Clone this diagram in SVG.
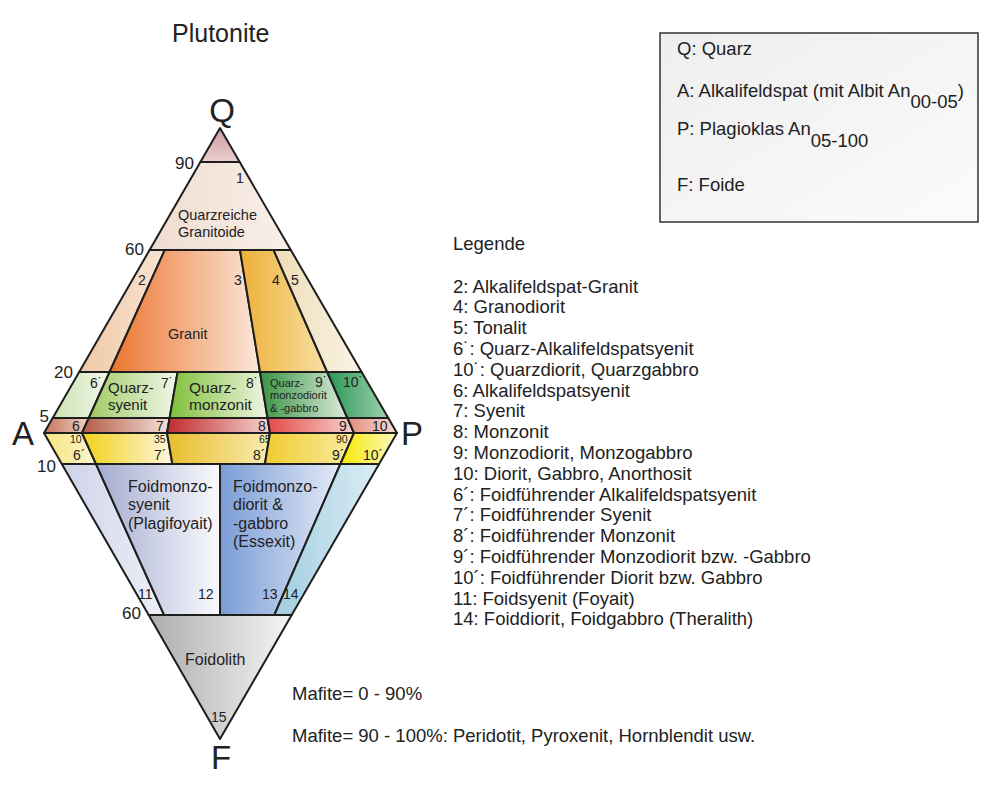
<svg xmlns="http://www.w3.org/2000/svg" width="1000" height="795" viewBox="0 0 1000 795">
<style>
text{font-family:"Liberation Sans",Arial,sans-serif;fill:#222}
.f{stroke:#1e1e1e;stroke-width:2;stroke-linejoin:round}
.n{font-size:14px}
.s{font-size:10.5px}
.ax{font-size:17px}
.v{font-size:33px}
.lg{font-size:18.5px}
.lb{font-size:16px}
</style>
<defs>
<linearGradient id="gT" x1="0" y1="0" x2="0" y2="1"><stop offset="0" stop-color="#cf9a9e"/><stop offset="1" stop-color="#e9cfcf"/></linearGradient>
<linearGradient id="g1" x1="0" y1="0" x2="1" y2="0"><stop offset="0" stop-color="#efdccf"/><stop offset="1" stop-color="#f9f0ea"/></linearGradient>
<linearGradient id="g2" x1="0" y1="0" x2="1" y2="0"><stop offset="0" stop-color="#f0c8a6"/><stop offset="1" stop-color="#f8e4d2"/></linearGradient>
<linearGradient id="g3" x1="0" y1="0" x2="1" y2="0"><stop offset="0" stop-color="#eb742e"/><stop offset="1" stop-color="#fbe8da"/></linearGradient>
<linearGradient id="g4" x1="0" y1="0" x2="1" y2="0"><stop offset="0" stop-color="#eeb038"/><stop offset="1" stop-color="#f7e0a4"/></linearGradient>
<linearGradient id="g5" x1="0" y1="0" x2="1" y2="0"><stop offset="0" stop-color="#eedcb4"/><stop offset="1" stop-color="#faf4e8"/></linearGradient>
<linearGradient id="gq6" x1="0" y1="0" x2="1" y2="0"><stop offset="0" stop-color="#cde3b4"/><stop offset="1" stop-color="#f0f7e8"/></linearGradient>
<linearGradient id="gq7" x1="0" y1="0" x2="1" y2="0"><stop offset="0" stop-color="#9fca64"/><stop offset="1" stop-color="#f2f7ea"/></linearGradient>
<linearGradient id="gq8" x1="0" y1="0" x2="1" y2="0"><stop offset="0" stop-color="#80c03a"/><stop offset="1" stop-color="#eef5e2"/></linearGradient>
<linearGradient id="gq9" x1="0" y1="0" x2="1" y2="0"><stop offset="0" stop-color="#3a9444"/><stop offset="1" stop-color="#dcecdc"/></linearGradient>
<linearGradient id="gq10" x1="0" y1="0" x2="1" y2="0"><stop offset="0" stop-color="#2a9656"/><stop offset="1" stop-color="#9ed2ae"/></linearGradient>
<linearGradient id="gr6" x1="0" y1="0" x2="1" y2="0"><stop offset="0" stop-color="#c4735a"/><stop offset="1" stop-color="#f0d2c4"/></linearGradient>
<linearGradient id="gr7" x1="0" y1="0" x2="1" y2="0"><stop offset="0" stop-color="#b45a45"/><stop offset="1" stop-color="#f5e2dc"/></linearGradient>
<linearGradient id="gr8" x1="0" y1="0" x2="1" y2="0"><stop offset="0" stop-color="#c02c2c"/><stop offset="1" stop-color="#f4d4d0"/></linearGradient>
<linearGradient id="gr9" x1="0" y1="0" x2="1" y2="0"><stop offset="0" stop-color="#e24a48"/><stop offset="1" stop-color="#f8d4d0"/></linearGradient>
<linearGradient id="gr10" x1="0" y1="0" x2="1" y2="0"><stop offset="0" stop-color="#e28c7c"/><stop offset="1" stop-color="#f7ddd6"/></linearGradient>
<linearGradient id="gy6" x1="0" y1="0" x2="1" y2="0"><stop offset="0" stop-color="#f5e47a"/><stop offset="1" stop-color="#fcf5cf"/></linearGradient>
<linearGradient id="gy7" x1="0" y1="0" x2="1" y2="0"><stop offset="0" stop-color="#f2d018"/><stop offset="1" stop-color="#fdf6dc"/></linearGradient>
<linearGradient id="gy8" x1="0" y1="0" x2="1" y2="0"><stop offset="0" stop-color="#e8bd2c"/><stop offset="1" stop-color="#f9ecb0"/></linearGradient>
<linearGradient id="gy9" x1="0" y1="0" x2="1" y2="0"><stop offset="0" stop-color="#f0cc30"/><stop offset="1" stop-color="#f9eca0"/></linearGradient>
<linearGradient id="gy10" x1="0" y1="0" x2="1" y2="0"><stop offset="0" stop-color="#f5ea00"/><stop offset="1" stop-color="#fcf7c0"/></linearGradient>
<linearGradient id="g11" x1="0" y1="0" x2="1" y2="0"><stop offset="0" stop-color="#cdd2e8"/><stop offset="1" stop-color="#eef0f8"/></linearGradient>
<linearGradient id="g12" x1="0" y1="0" x2="1" y2="0"><stop offset="0" stop-color="#a4acd0"/><stop offset="1" stop-color="#fafafd"/></linearGradient>
<linearGradient id="g13" x1="0" y1="0" x2="1" y2="0"><stop offset="0" stop-color="#7a9cd6"/><stop offset="1" stop-color="#e4eaf6"/></linearGradient>
<linearGradient id="g14" x1="0" y1="0" x2="1" y2="0"><stop offset="0" stop-color="#a0cde0"/><stop offset="1" stop-color="#dceef4"/></linearGradient>
<linearGradient id="g15" x1="0" y1="0" x2="1" y2="0"><stop offset="0" stop-color="#adadad"/><stop offset="1" stop-color="#f5f5f5"/></linearGradient>
<linearGradient id="gbox" x1="0" y1="0" x2="1" y2="1"><stop offset="0" stop-color="#eeeeee"/><stop offset="1" stop-color="#fbfbfb"/></linearGradient>
</defs>
<rect width="1000" height="795" fill="#ffffff"/>

<text x="172" y="42" font-size="25">Plutonite</text>

<g id="field-top"><polygon class="f" fill="url(#gT)" points="220,128 239.7,162 200.4,162"/></g>
<g id="field-1"><polygon class="f" fill="url(#g1)" points="200.4,162 239.7,162 290.8,250 149.6,250"/>
<text class="n" x="236" y="183" font-size="13">1</text>
<text x="178" y="220" font-size="14.5">Quarzreiche</text><text x="178" y="237" font-size="14.5">Granitoide</text></g>
<g id="field-2"><polygon class="f" fill="url(#g2)" points="149.6,250 164.8,250 109.6,372 79.2,372"/><text class="n" x="138" y="285">2</text></g>
<g id="field-3"><polygon class="f" fill="url(#g3)" points="164.8,250 240,250 260,372 109.6,372"/><text class="n" x="234" y="285">3</text><text x="168" y="339" font-size="14.5">Granit</text></g>
<g id="field-4"><polygon class="f" fill="url(#g4)" points="240,250 273.6,250 327.2,372 260,372"/><text class="n" x="272" y="285">4</text></g>
<g id="field-5"><polygon class="f" fill="url(#g5)" points="273.6,250 290.8,250 361.6,372 327.2,372"/><text class="n" x="291" y="285">5</text></g>

<g id="field-6q"><polygon class="f" fill="url(#gq6)" points="79.2,372 109.6,372 88.8,418 52.7,418"/><text class="n" x="90" y="388">6˙</text></g>
<g id="field-7q"><polygon class="f" fill="url(#gq7)" points="109.6,372 177.6,372 169.6,418 88.8,418"/><text class="n" x="161" y="388">7˙</text>
<text x="108" y="393" font-size="15">Quarz-</text><text x="108" y="410" font-size="15">syenit</text></g>
<g id="field-8q"><polygon class="f" fill="url(#gq8)" points="177.6,372 260,372 267.5,418 169.6,418"/><text class="n" x="246" y="388">8˙</text>
<text x="189" y="393" font-size="15.5">Quarz-</text><text x="189" y="410" font-size="15.5">monzonit</text></g>
<g id="field-9q"><polygon class="f" fill="url(#gq9)" points="260,372 327.2,372 347.4,418 267.5,418"/><text class="n" x="315" y="387">9˙</text>
<text x="270" y="387" font-size="11">Quarz-</text><text x="270" y="399" font-size="11">monzodiorit</text><text x="270" y="412" font-size="11">&amp; -gabbro</text></g>
<g id="field-10q"><polygon class="f" fill="url(#gq10)" points="327.2,372 361.6,372 388.3,418 347.4,418"/><text class="n" x="343" y="387">10˙</text></g>

<g id="field-6"><polygon class="f" fill="url(#gr6)" points="52.7,418 88.8,418 82,433 44,433"/><text class="n" x="72" y="431">6</text></g>
<g id="field-7"><polygon class="f" fill="url(#gr7)" points="88.8,418 169.6,418 167,433 82,433"/><text class="n" x="156" y="431">7</text></g>
<g id="field-8"><polygon class="f" fill="url(#gr8)" points="169.6,418 267.5,418 270,433 167,433"/><text class="n" x="258" y="431">8</text></g>
<g id="field-9"><polygon class="f" fill="url(#gr9)" points="267.5,418 347.4,418 354,433 270,433"/><text class="n" x="339" y="431">9</text></g>
<g id="field-10"><polygon class="f" fill="url(#gr10)" points="347.4,418 388.3,418 397,433 354,433"/><text class="n" x="372" y="431">10</text></g>

<g id="field-6f"><polygon class="f" fill="url(#gy6)" points="44,433 82,433 96,464 61.8,464"/><text class="s" x="70" y="443">10</text><text class="n" x="73" y="460">6´</text></g>
<g id="field-7f"><polygon class="f" fill="url(#gy7)" points="82,433 167,433 172.4,464 96,464"/><text class="s" x="154" y="443">35</text><text class="n" x="154" y="460">7´</text></g>
<g id="field-8f"><polygon class="f" fill="url(#gy8)" points="167,433 270,433 264.9,464 172.4,464"/><text class="s" x="259" y="443">65</text><text class="n" x="253" y="460">8´</text></g>
<g id="field-9f"><polygon class="f" fill="url(#gy9)" points="270,433 354,433 340.4,464 264.9,464"/><text class="s" x="336" y="443">90</text><text class="n" x="332" y="460">9´</text></g>
<g id="field-10f"><polygon class="f" fill="url(#gy10)" points="354,433 397,433 379.1,464 340.4,464"/><text class="n" x="363" y="460">10´</text></g>

<g id="field-11"><polygon class="f" fill="url(#g11)" points="61.8,464 96,464 164.1,615 148.7,615"/><text class="n" x="138" y="599">11</text></g>
<g id="field-12"><polygon class="f" fill="url(#g12)" points="96,464 220,464 220,615 164.1,615"/><text class="n" x="198" y="599">12</text>
<text class="lb" x="128" y="492">Foidmonzo-</text><text class="lb" x="128" y="510">syenit</text><text class="lb" x="128" y="529">(Plagifoyait)</text></g>
<g id="field-13"><polygon class="f" fill="url(#g13)" points="220,464 340.4,464 274.3,615 220,615"/><text class="n" x="262" y="599">13</text>
<text class="lb" x="233" y="492">Foidmonzo-</text><text class="lb" x="233" y="510">diorit &amp;</text><text class="lb" x="233" y="529">-gabbro</text><text class="lb" x="233" y="547">(Essexit)</text></g>
<g id="field-14"><polygon class="f" fill="url(#g14)" points="340.4,464 379.1,464 291.7,615 274.3,615"/><text class="n" x="283" y="599">14</text></g>
<g id="field-15"><polygon class="f" fill="url(#g15)" points="148.7,615 291.7,615 220,739"/><text class="lb" x="185" y="665">Foidolith</text><text class="n" x="211" y="722">15</text></g>

<g id="connectors"></g>

<g id="axis-labels">
<text class="v" x="222" y="122" text-anchor="middle">Q</text>
<text class="v" x="12" y="445">A</text>
<text class="v" x="401" y="445">P</text>
<text class="v" x="221" y="769" text-anchor="middle">F</text>
<text class="ax" x="194" y="169" text-anchor="end">90</text>
<text class="ax" x="144" y="255" text-anchor="end">60</text>
<text class="ax" x="73" y="378" text-anchor="end">20</text>
<text class="ax" x="49" y="422" text-anchor="end">5</text>
<text class="ax" x="56" y="472" text-anchor="end">10</text>
<text class="ax" x="141" y="619" text-anchor="end">60</text>
</g>

<g id="key-box">
<rect x="660" y="33" width="318" height="189" fill="url(#gbox)" stroke="#333" stroke-width="1.5"/>
<text class="lg" x="677" y="55">Q: Quarz</text>
<text class="lg" x="677" y="97">A: Alkalifeldspat (mit Albit An<tspan dy="11">00-05</tspan><tspan dy="-11">)</tspan></text>
<text class="lg" x="677" y="135">P: Plagioklas An<tspan dy="12">05-100</tspan></text>
<text class="lg" x="677" y="191">F: Foide</text>
</g>

<g id="legend">
<text class="lg" x="453" y="250">Legende</text>
<text class="lg" x="453" y="292.5">2: Alkalifeldspat-Granit</text>
<text class="lg" x="453" y="313.3">4: Granodiorit</text>
<text class="lg" x="453" y="334.1">5: Tonalit</text>
<text class="lg" x="453" y="354.9">6˙: Quarz-Alkalifeldspatsyenit</text>
<text class="lg" x="453" y="375.7">10˙: Quarzdiorit, Quarzgabbro</text>
<text class="lg" x="453" y="396.5">6: Alkalifeldspatsyenit</text>
<text class="lg" x="453" y="417.3">7: Syenit</text>
<text class="lg" x="453" y="438.1">8: Monzonit</text>
<text class="lg" x="453" y="458.9">9: Monzodiorit, Monzogabbro</text>
<text class="lg" x="453" y="479.7">10: Diorit, Gabbro, Anorthosit</text>
<text class="lg" x="453" y="500.5">6´: Foidführender Alkalifeldspatsyenit</text>
<text class="lg" x="453" y="521.3">7´: Foidführender Syenit</text>
<text class="lg" x="453" y="542.1">8´: Foidführender Monzonit</text>
<text class="lg" x="453" y="562.9">9´: Foidführender Monzodiorit bzw. -Gabbro</text>
<text class="lg" x="453" y="583.7">10´: Foidführender Diorit bzw. Gabbro</text>
<text class="lg" x="453" y="604.5">11: Foidsyenit (Foyait)</text>
<text class="lg" x="453" y="625.3">14: Foiddiorit, Foidgabbro (Theralith)</text>
</g>

<g id="notes">
<text class="lg" x="292" y="700">Mafite= 0 - 90%</text>
<text class="lg" x="292" y="742">Mafite= 90 - 100%: Peridotit, Pyroxenit, Hornblendit usw.</text>
</g>
</svg>
